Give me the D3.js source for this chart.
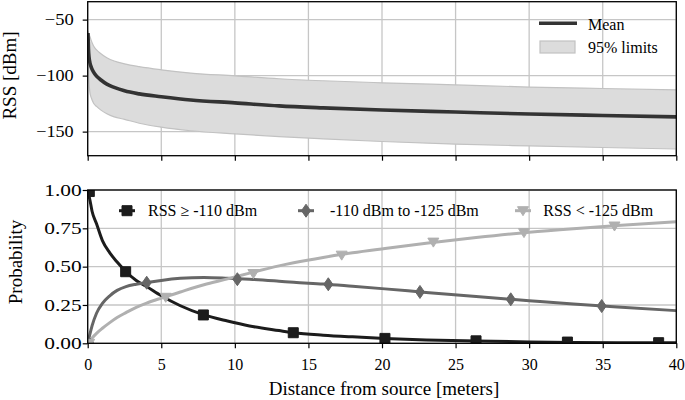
<!DOCTYPE html>
<html><head><meta charset="utf-8">
<script src="https://cdn.jsdelivr.net/npm/d3@7"></script>
<style>
body{margin:0;background:#fff}
svg{display:block}
</style>
</head><body><svg id="c" width="685" height="400"></svg>
<script>
// ---------- data ----------
const rssDist  = [0.02,0.05,0.1,0.15,0.25,0.4,0.6,0.9,1.3,1.8,2.5,3.5,5,7,10,13,16,20,25,30,35,40];
const rssMean  = [-62,-76,-84.5,-88.5,-92.8,-96.8,-100.4,-103.9,-107.6,-110.5,-113.6,-116.3,-118.8,-121.7,-124.3,-127,-128.8,-130.7,-132.5,-134.3,-135.6,-136.8];
const rssUpper = [-60,-62,-63.5,-65,-69,-73.5,-77,-80.5,-84,-87,-89.5,-92,-94.8,-97.7,-100.2,-102.8,-104.6,-106.4,-108.3,-110.2,-111.5,-112.7];
const rssLower = [-66,-92,-108,-115,-120,-124.6,-127.5,-130.8,-134,-136.8,-139,-142.5,-146,-149.2,-152,-154.4,-156.4,-158.8,-161.2,-162.8,-164.2,-165.5];
const rssTicks = [-50,-100,-150];

const distTicks = [0,5,10,15,20,25,30,35,40];
const probTicks = [0,0.25,0.5,0.75,1];

const probDist = [0,0.15,0.3,0.6,1,1.5,2,2.6,3.3,4,5,6.3,7.9,9.5,11,13,14,16,18,20.2,23,26.4,30,33,36,40];
const probHigh = [1,0.935,0.86,0.78,0.67,0.59,0.53,0.467,0.41,0.37,0.31,0.245,0.185,0.145,0.113,0.083,0.069,0.053,0.042,0.032,0.022,0.015,0.009,0.006,0.004,0.003];
const probMid  = [0,0.06,0.115,0.196,0.26,0.31,0.345,0.37,0.385,0.395,0.41,0.424,0.43,0.425,0.418,0.405,0.398,0.387,0.372,0.355,0.332,0.305,0.278,0.256,0.236,0.213];
const probLow  = [0,0.02,0.035,0.065,0.098,0.135,0.168,0.2,0.235,0.262,0.295,0.335,0.382,0.42,0.458,0.505,0.525,0.56,0.59,0.618,0.652,0.69,0.725,0.748,0.768,0.793];

const markHighD = [0.11,2.58,7.86,13.97,20.2,26.39,32.6,38.8];
const markHighP = [0.99,0.467,0.185,0.069,0.032,0.016,0.008,0.004];
const markMidD  = [0.1,4.01,10.17,16.35,22.58,28.75,34.93];
const markMidP  = [0.0,0.395,0.418,0.385,0.335,0.287,0.243];
const markLowD  = [0.1,5.3,11.26,17.26,23.49,29.65,35.8];
const markLowP  = [0.0,0.300,0.455,0.575,0.66,0.722,0.765];

const topLegend = ["Mean","95% limits"];
const seriesNames = ["RSS \u2265 -110 dBm","-110 dBm to -125 dBm","RSS < -125 dBm"];
const xLabel = "Distance from source [meters]";
const yLabelTop = "RSS [dBm]";
const yLabelBot = "Probability";

// ---------- layout ----------
const FONT = '"Liberation Serif", "Times New Roman", Times, serif';
const svg = d3.select("#c");
const X0 = 87.7, X1 = 676.3;
const T0 = 1.7, T1 = 155.7;   // top panel
const B0 = 190, B1 = 343.3;   // bottom panel
const gridCol = "#c6c6c6";
const cHigh = "#1c1c1c", cMid = "#666666", cLow = "#b0b0b0";

const x = d3.scaleLinear().domain([0,40]).range([X0,X1]);
const yT = d3.scaleLinear().domain([-171.5,-34]).range([T1,T0]);
const yB = d3.scaleLinear().domain([0,1]).range([B1,B0]);

function txt(g, s, size){
  return g.append("text").style("font-family",FONT).style("font-size",size+"px").style("fill","#000").text(s);
}

const defs = svg.append("defs");
defs.append("clipPath").attr("id","clipT").append("rect").attr("x",X0).attr("y",T0).attr("width",X1-X0).attr("height",T1-T0);
defs.append("clipPath").attr("id","clipB").append("rect").attr("x",X0).attr("y",B0).attr("width",X1-X0).attr("height",B1-B0);

function grid(yScale, yTicks, y0, y1){
  const g = svg.append("g");
  g.selectAll(".gv").data(distTicks).join("line")
    .attr("x1",d=>x(d)).attr("x2",d=>x(d)).attr("y1",y0).attr("y2",y1)
    .attr("stroke",gridCol).attr("stroke-width",1.3);
  g.selectAll(".gh").data(yTicks).join("line")
    .attr("x1",X0).attr("x2",X1).attr("y1",d=>yScale(d)).attr("y2",d=>yScale(d))
    .attr("stroke",gridCol).attr("stroke-width",1.3);
}
grid(yT, rssTicks, T0, T1);
grid(yB, probTicks, B0, B1);

// ---------- top panel ----------
const idx = d3.range(rssDist.length);
const pT = svg.append("g").attr("clip-path","url(#clipT)");
pT.append("path")
  .attr("d", d3.area().x(i=>x(rssDist[i])).y0(i=>yT(rssLower[i])).y1(i=>yT(rssUpper[i])).curve(d3.curveMonotoneX)(idx))
  .attr("fill","#dcdcdc");
[rssUpper, rssLower].forEach(arr=>{
  pT.append("path")
    .attr("d", d3.line().x(i=>x(rssDist[i])).y(i=>yT(arr[i])).curve(d3.curveMonotoneX)(idx))
    .attr("fill","none").attr("stroke","#c2c2c2").attr("stroke-width",1.2);
});
pT.append("path")
  .attr("d", d3.line().x(i=>x(rssDist[i])).y(i=>yT(rssMean[i])).curve(d3.curveMonotoneX)(idx))
  .attr("fill","none").attr("stroke","#333333").attr("stroke-width",3.6);

// ---------- bottom panel ----------
const pidx = d3.range(probDist.length);
const pB = svg.append("g").attr("clip-path","url(#clipB)");
const series = [
  {vals:probHigh, md:markHighD, mp:markHighP, col:cHigh, sym:"square"},
  {vals:probMid,  md:markMidD,  mp:markMidP,  col:cMid,  sym:"diamond"},
  {vals:probLow,  md:markLowD,  mp:markLowP,  col:cLow,  sym:"tri"}
];
function marker(g, sym, cx, cy, col){
  let p;
  if(sym==="square") p = `M${cx-5},${cy-5}h10v10h-10z`;
  else if(sym==="diamond") p = `M${cx},${cy-6.5}L${cx+4.5},${cy}L${cx},${cy+6.5}L${cx-4.5},${cy}Z`;
  else p = `M${cx-5.5},${cy-4}L${cx+5.5},${cy-4}L${cx},${cy+5}Z`;
  g.append("path").attr("d",p).attr("fill",col).attr("stroke",col).attr("stroke-width",1);
}
series.forEach(s=>{
  pB.append("path")
    .attr("d", d3.line().x(i=>x(probDist[i])).y(i=>yB(s.vals[i])).curve(d3.curveMonotoneX)(pidx))
    .attr("fill","none").attr("stroke",s.col).attr("stroke-width",3);
});
series.forEach(s=>{
  s.md.forEach((d,k)=>marker(pB, s.sym, x(d), yB(s.mp[k]), s.col));
});

// ---------- axes ----------
function styleAxis(g, size){
  g.select(".domain").remove();
  g.selectAll(".tick line").attr("stroke","#000").attr("stroke-width",1.2);
  g.selectAll(".tick text").style("font-family",FONT).style("font-size",size+"px").style("fill","#000");
}
const fmtR = d=>d.toString().replace("-","\u2212");
const gyT = svg.append("g").attr("transform",`translate(${X0},0)`)
  .call(d3.axisLeft(yT).tickValues(rssTicks).tickFormat(fmtR).tickSize(5).tickPadding(9)).call(styleAxis,16);
gyT.selectAll(".tick text").attr("textLength",d=>d===-50?29:37.5).attr("lengthAdjust","spacingAndGlyphs");
svg.append("g").attr("transform",`translate(0,${T1})`)
  .call(d3.axisBottom(x).tickValues(distTicks).tickFormat("").tickSize(5)).call(styleAxis,16);
const gyB = svg.append("g").attr("transform",`translate(${X0},0)`)
  .call(d3.axisLeft(yB).tickValues(probTicks).tickFormat(d3.format(".2f")).tickSize(5).tickPadding(1)).call(styleAxis,16);
gyB.selectAll(".tick text").attr("textLength",37.5).attr("lengthAdjust","spacingAndGlyphs");
svg.append("g").attr("transform",`translate(0,${B1})`)
  .call(d3.axisBottom(x).tickValues(distTicks).tickFormat(d3.format("d")).tickSize(5).tickPadding(10)).call(styleAxis,16);

// frames
[[T0,T1],[B0,B1]].forEach(([a,b])=>{
  svg.append("rect").attr("x",X0).attr("y",a).attr("width",X1-X0).attr("height",b-a)
    .attr("fill","none").attr("stroke","#000").attr("stroke-width",1.3);
});

// axis labels
txt(svg, xLabel, 19).attr("x",(X0+X1)/2 + 2).attr("y",395).attr("text-anchor","middle");
txt(svg, yLabelTop, 19).attr("transform",`translate(16,75.5) rotate(-90)`).attr("text-anchor","middle");
txt(svg, yLabelBot, 19).attr("transform",`translate(21.5,262) rotate(-90)`).attr("text-anchor","middle");

// top legend
svg.append("line").attr("x1",539).attr("x2",577).attr("y1",23.3).attr("y2",23.3).attr("stroke","#333").attr("stroke-width",3.6);
svg.append("rect").attr("x",540).attr("y",41).attr("width",35).attr("height",12).attr("fill","#dcdcdc").attr("stroke","#c2c2c2").attr("stroke-width",1.2);
txt(svg, topLegend[0], 16).attr("x",588).attr("y",29.5);
txt(svg, topLegend[1], 16).attr("x",588).attr("y",53);

// bottom legend
const legX = [{lx:119,tx:148},{lx:298,tx:330},{lx:515,tx:543.3}];
const legY = 210.7;
series.forEach((s,k)=>{
  const L = legX[k];
  svg.append("line").attr("x1",L.lx).attr("x2",L.lx+16).attr("y1",legY).attr("y2",legY).attr("stroke",s.col).attr("stroke-width",3);
  marker(svg, s.sym, L.lx+8, legY, s.col);
  txt(svg, seriesNames[k], 16).attr("x",L.tx).attr("y",legY+5.5);
});
</script></body></html>
